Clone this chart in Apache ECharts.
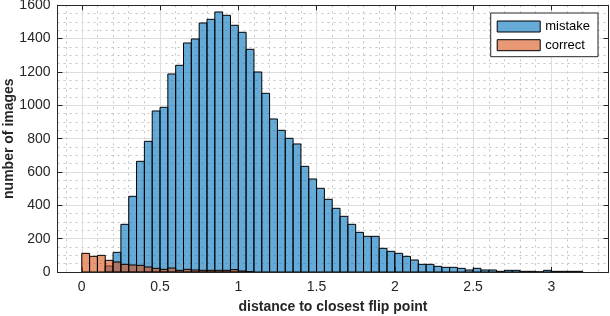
<!DOCTYPE html>
<html>
<head>
<meta charset="utf-8">
<script src="https://cdn.jsdelivr.net/npm/echarts@6/dist/echarts.min.js"></script>
<style>
html,body{margin:0;padding:0;background:#fff;}
#chart{width:610px;height:316px;}
</style>
</head>
<body>
<div id="chart"></div>
<script>
// ---- data ----
const binWidth = 0.05;
const seriesNames = ['mistake', 'correct'];
const mistakeStart = 0.15;
const mistakeCounts = [36, 118, 286, 454, 664, 784, 966, 988, 1188, 1240,
  1374, 1398, 1494, 1516, 1560, 1540, 1480, 1438, 1336, 1200,
  1072, 918, 850, 802, 768, 634, 558, 502, 436, 382,
  334, 286, 238, 214, 214, 142, 124, 112, 94, 72,
  46, 46, 34, 28, 28, 22, 12, 22, 12, 12,
  4, 10, 10, 4, 4, 1, 10, 4, 4, 4, 4];
const correctStart = 0;
const correctCounts = [112, 94, 100, 70, 60, 46, 42, 40, 30, 22,
  16, 24, 10, 16, 12, 10, 10, 10, 10, 14, 6, 2];
const xTickValues = [0, 0.5, 1, 1.5, 2, 2.5, 3];
const yTickValues = [0, 200, 400, 600, 800, 1000, 1200, 1400, 1600];
const xLabel = 'distance to closest flip point';
const yLabel = 'number of images';

function toBins(start, counts) {
  return counts.map((c, i) => {
    const x0 = +(start + i * binWidth).toFixed(4);
    const x1 = +(start + (i + 1) * binWidth).toFixed(4);
    return [x0, x1, c];
  });
}

const FONT = '"Liberation Sans", Arial, Helvetica, sans-serif';
const AXIS_COLOR = '#262626';
const xMin = -0.155, xMax = 3.365;

function renderBar(params, api) {
  const x0 = api.value(0), x1 = api.value(1), h = api.value(2);
  const pTop = api.coord([x0, h]);
  const pBot = api.coord([x1, 0]);
  const st = api.style();
  return {
    type: 'rect',
    shape: { x: pTop[0], y: pTop[1], width: pBot[0] - pTop[0], height: pBot[1] - pTop[1] },
    style: { fill: st.fill, stroke: '#000', lineWidth: 1 }
  };
}

const xCommon = {
  type: 'value', min: xMin, max: xMax,
  minInterval: 0.5, maxInterval: 0.5, splitNumber: 7,
  axisLine: { show: true, onZero: false, lineStyle: { color: AXIS_COLOR, width: 1 } },
  axisTick: { show: true, inside: true, length: 5, lineStyle: { color: AXIS_COLOR } },
  minorTick: { show: false, splitNumber: 5 }
};
const yCommon = {
  type: 'value', min: 0, max: 1600, interval: 200,
  axisLine: { show: true, onZero: false, lineStyle: { color: AXIS_COLOR, width: 1 } },
  axisTick: { show: true, inside: true, length: 5, lineStyle: { color: AXIS_COLOR } },
  minorTick: { show: false, splitNumber: 4 }
};

const chart = echarts.init(document.getElementById('chart'), null, { renderer: 'canvas' });
chart.setOption({
  animation: false,
  backgroundColor: '#fff',
  textStyle: { fontFamily: FONT },
  grid: { left: 57.5, right: 1.5, top: 5.3, bottom: 44, containLabel: false, outerBoundsMode: 'none' },
  xAxis: [
    Object.assign({}, xCommon, {
      position: 'bottom',
      name: xLabel, nameLocation: 'middle', nameGap: 28,
      nameTextStyle: { fontSize: 14, fontWeight: 'bold', color: AXIS_COLOR, fontFamily: FONT },
      axisLabel: {
        show: true, fontSize: 14, color: AXIS_COLOR, margin: 8, fontFamily: FONT,
        showMinLabel: false, showMaxLabel: false,
        formatter: v => (xTickValues.some(t => Math.abs(t - v) < 1e-6) ? String(Math.abs(v) < 1e-9 ? 0 : v) : '')
      },
      splitLine: { show: true, lineStyle: { color: '#dedede', width: 1 } },
      minorSplitLine: { show: true, lineStyle: { color: '#c4c4c4', width: 1, type: [2, 4] } }
    }),
    Object.assign({}, xCommon, {
      position: 'top',
      axisLabel: { show: false },
      splitLine: { show: false }
    })
  ],
  yAxis: [
    Object.assign({}, yCommon, {
      position: 'left',
      name: yLabel, nameLocation: 'middle', nameGap: 41, nameMoveOverlap: false,
      nameTextStyle: { fontSize: 14, fontWeight: 'bold', color: AXIS_COLOR, fontFamily: FONT },
      axisLabel: {
        show: true, fontSize: 14, color: AXIS_COLOR, margin: 7, fontFamily: FONT,
        formatter: v => (yTickValues.indexOf(v) >= 0 ? String(v) : '')
      },
      splitLine: { show: true, lineStyle: { color: '#dedede', width: 1 } },
      minorSplitLine: { show: true, lineStyle: { color: '#c4c4c4', width: 1, type: [2, 4] } }
    }),
    Object.assign({}, yCommon, {
      position: 'right',
      axisLabel: { show: false },
      splitLine: { show: false }
    })
  ],
  legend: {
    orient: 'vertical', right: 12, top: 13,
    padding: [7, 8, 5, 6],
    itemWidth: 43, itemHeight: 11, itemGap: 5.7,
    icon: 'rect',
    borderColor: AXIS_COLOR, borderWidth: 1, backgroundColor: '#fff',
    textStyle: { fontSize: 13, color: '#000', fontFamily: FONT, lineHeight: 11 },
    itemStyle: { borderColor: '#000', borderWidth: 1 },
    data: seriesNames
  },
  series: [
    {
      name: seriesNames[0], type: 'custom', xAxisIndex: 0, yAxisIndex: 0,
      renderItem: renderBar, clip: true,
      itemStyle: { color: 'rgba(0,114,189,0.6)', borderColor: '#000', borderWidth: 1 },
      encode: { x: [0, 1], y: 2 },
      data: toBins(mistakeStart, mistakeCounts),
      z: 2
    },
    {
      name: seriesNames[1], type: 'custom', xAxisIndex: 0, yAxisIndex: 0,
      renderItem: renderBar, clip: true,
      itemStyle: { color: 'rgba(217,83,25,0.6)', borderColor: '#000', borderWidth: 1 },
      encode: { x: [0, 1], y: 2 },
      data: toBins(correctStart, correctCounts),
      z: 3
    }
  ]
});
</script>
</body>
</html>
